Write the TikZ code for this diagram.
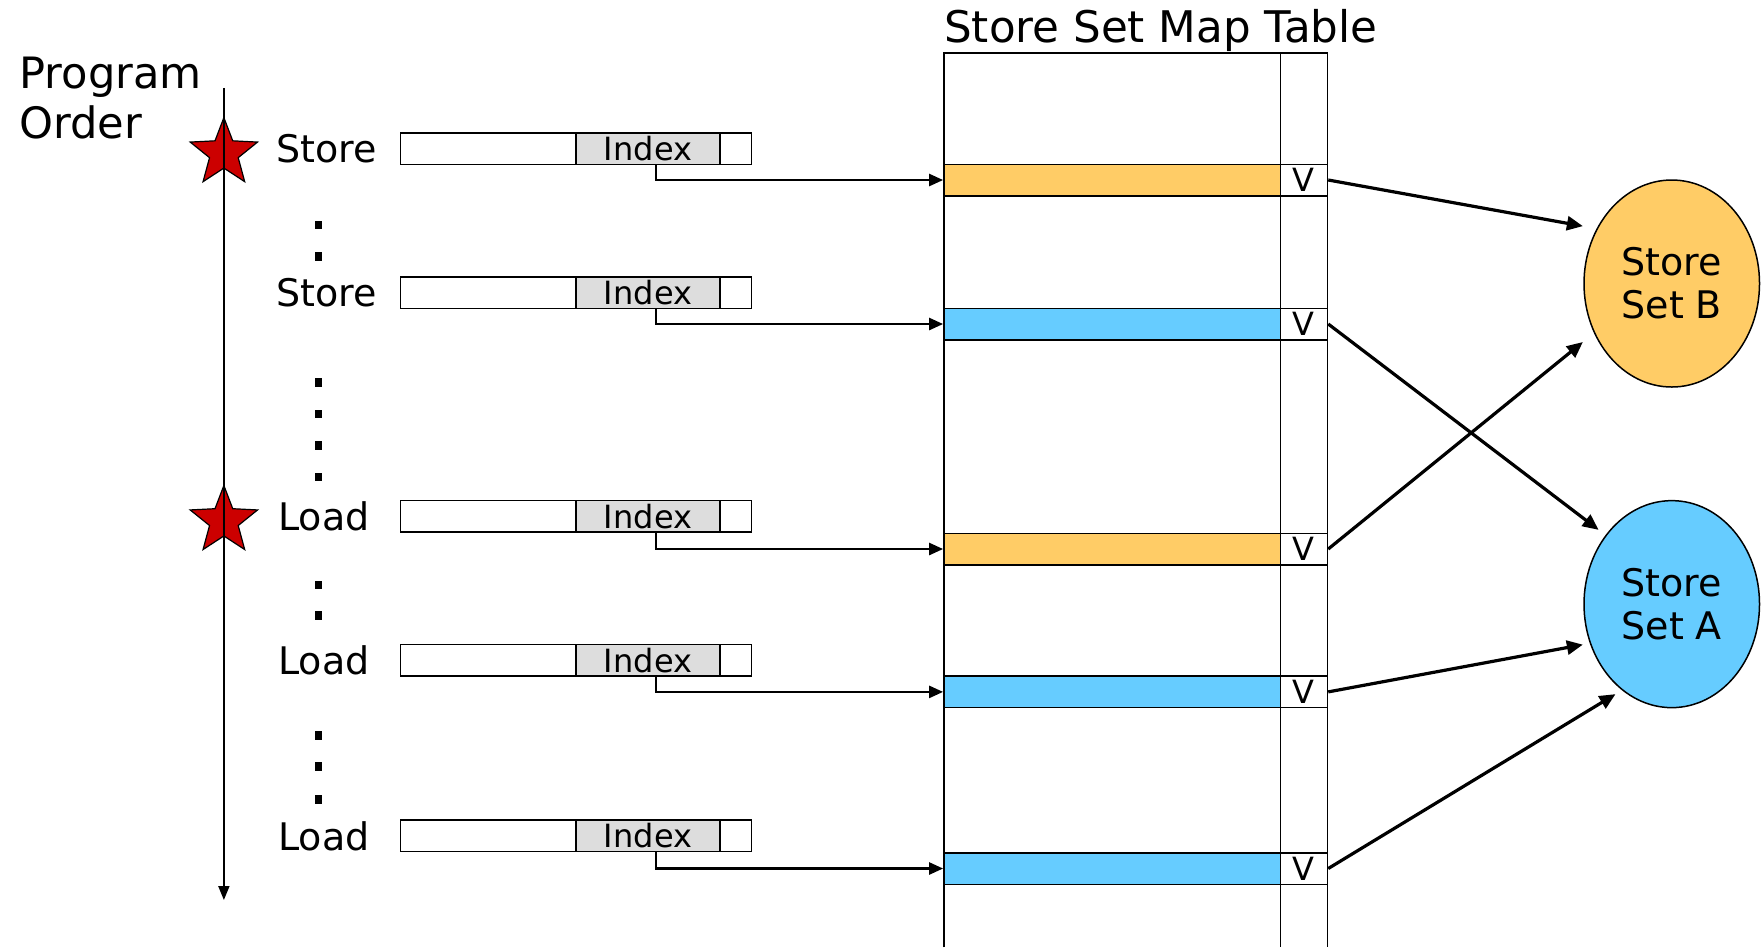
\documentclass[tikz,border=0pt]{standalone}
\usepackage{fontspec}
\setmainfont{DejaVu Sans}
\usetikzlibrary{shapes.geometric,arrows.meta,calc}
\definecolor{setorange}{HTML}{FFCC66}
\definecolor{setblue}{HTML}{66CCFF}
\definecolor{idxgray}{HTML}{DDDDDD}
\definecolor{starred}{HTML}{CC0000}

\tikzset{
  insbox/.style={draw, line width=0.75pt, minimum width=175.5pt, minimum height=15.75pt, inner sep=0pt},
  idxbox/.style={draw, fill=idxgray, line width=0.75pt, minimum width=72pt, minimum height=15.75pt, inner sep=0pt, font=\fontsize{16}{16}\selectfont},
  maprow/.style={draw, line width=0.75pt, minimum width=168.2pt, minimum height=15.75pt, inner sep=0pt},
  vbox/.style={draw, fill=white, line width=0.75pt, minimum width=23.6pt, minimum height=15.75pt, inner sep=0pt, font=\fontsize{16}{16}\selectfont},
  opname/.style={anchor=west, inner sep=0pt, font=\fontsize{19}{19}\selectfont},
  seqdot/.style={fill=black, minimum width=3.6pt, minimum height=4.4pt, inner sep=0pt},
  orderstar/.style={star, star points=5, star point ratio=2.35, draw, fill=starred, line width=0.6pt, minimum size=35.4pt, inner sep=0pt},
  storeset/.style={ellipse, draw, line width=0.75pt, minimum width=87.75pt, minimum height=103.5pt, inner sep=0pt, align=center, font=\fontsize{19}{21.4}\selectfont},
  idxarrow/.style={line width=1.25pt, -{Triangle[length=7pt,width=6pt]}},
  setarrow/.style={line width=1.6pt, -{Triangle[length=8pt,width=7pt]}},
}

\begin{document}
\begin{tikzpicture}[x=0.5625pt, y=-0.5625pt]
        \useasboundingbox (0,0) rectangle (1568,842);
        % program order axis
        \node[anchor=north west, inner sep=0pt, align=left, font=\fontsize{21.6}{25.3}\selectfont] (order) at (17,50) {Program\\Order};
        \coordinate (axTop) at (199,78);
        \coordinate (axEnd) at (199,800);
        \node[orderstar] (star1) at (199,136) {};
        \node[orderstar] (star2) at (199,463) {};
        \draw[line width=0.9pt, -{Triangle[length=7pt,width=5.5pt]}] (axTop) -- (axEnd);
        % instructions
        \node[opname] (op1) at (245,132) {Store};
        \node[insbox] (ins1) at (512,132) {};
        \node[idxbox] (idx1) at (576,132) {Index};
        \node[opname] (op2) at (245,260) {Store};
        \node[insbox] (ins2) at (512,260) {};
        \node[idxbox] (idx2) at (576,260) {Index};
        \node[opname] (op3) at (247,459) {Load};
        \node[insbox] (ins3) at (512,459) {};
        \node[idxbox] (idx3) at (576,459) {Index};
        \node[opname] (op4) at (247,587) {Load};
        \node[insbox] (ins4) at (512,587) {};
        \node[idxbox] (idx4) at (576,587) {Index};
        \node[opname] (op5) at (247,743) {Load};
        \node[insbox] (ins5) at (512,743) {};
        \node[idxbox] (idx5) at (576,743) {Index};
        % dots between instructions
        \node[seqdot] (d1) at (283,200) {};
        \node[seqdot] (d2) at (283,228) {};
        \node[seqdot] (d3) at (283,340) {};
        \node[seqdot] (d4) at (283,368) {};
        \node[seqdot] (d5) at (283,396) {};
        \node[seqdot] (d6) at (283,424) {};
        \node[seqdot] (d7) at (283,520) {};
        \node[seqdot] (d8) at (283,547) {};
        \node[seqdot] (d9) at (283,654) {};
        \node[seqdot] (d10) at (283,681) {};
        \node[seqdot] (d11) at (283,711) {};
        % store set map table
        \node[anchor=base west, inner sep=0pt, font=\fontsize{21.8}{21.8}\selectfont] (title) at (839,38) {Store Set Map Table};
        \draw[line width=0.75pt] (839,842) -- (839,47) -- (1180,47) -- (1180,842);
        \draw[line width=0.75pt] (1138,47) -- (1138,842);
        \node[maprow, fill=setorange] (row1) at (988.5,160) {};
        \node[vbox] (v1) at (1159,160) {V};
        \node[maprow, fill=setblue] (row2) at (988.5,288) {};
        \node[vbox] (v2) at (1159,288) {V};
        \node[maprow, fill=setorange] (row3) at (988.5,488) {};
        \node[vbox] (v3) at (1159,488) {V};
        \node[maprow, fill=setblue] (row4) at (988.5,615) {};
        \node[vbox] (v4) at (1159,615) {V};
        \node[maprow, fill=setblue] (row5) at (988.5,772) {};
        \node[vbox] (v5) at (1159,772) {V};
        \draw[idxarrow] ([xshift=4pt]idx1.south) |- (row1.west);
        \draw[idxarrow] ([xshift=4pt]idx2.south) |- (row2.west);
        \draw[idxarrow] ([xshift=4pt]idx3.south) |- (row3.west);
        \draw[idxarrow] ([xshift=4pt]idx4.south) |- (row4.west);
        \draw[idxarrow] ([xshift=4pt]idx5.south) |- (row5.west);
        % store sets
        \node[storeset, fill=setorange] (setB) at (1486,252) {Store\\Set B};
        \node[storeset, fill=setblue] (setA) at (1486,537) {Store\\Set A};
        \draw[setarrow] (v1.east) -- ($(setB.center)+(-79,-51)$);
        \draw[setarrow] (v2.east) -- ($(setA.center)+(-65,-66)$);
        \draw[setarrow] (v3.east) -- ($(setB.center)+(-79,52)$);
        \draw[setarrow] (v4.east) -- ($(setA.center)+(-79,36)$);
        \draw[setarrow] (v5.east) -- ($(setA.center)+(-50,80)$);
\end{tikzpicture}
\end{document}
